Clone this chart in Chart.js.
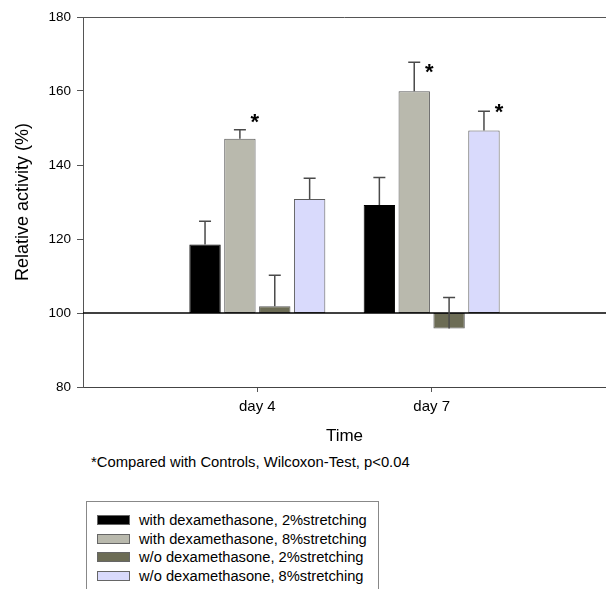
<!DOCTYPE html>
<html>
<head>
<meta charset="utf-8">
<script src="https://cdn.jsdelivr.net/npm/chart.js@4.4.0/dist/chart.umd.min.js"></script>
<style>
  html, body { margin: 0; padding: 0; background: #fff; overflow: hidden; width: 606px; height: 589px; }
  body { position: relative; font-family: "Liberation Sans", Arial, sans-serif; }
  #chart { position: absolute; left: 0; top: 0; }
  #footnote { position: absolute; left: 91px; top: 454px; font-size: 14.8px; line-height: 17px; color: #000; white-space: nowrap; }
  #legend { position: absolute; left: 86px; top: 501px; width: 293px; height: 110px; border: 1px solid #888; box-sizing: border-box; padding-top: 9px; }
  .row { height: 18.5px; display: flex; align-items: center; font-size: 14.7px; color: #000; white-space: nowrap; }
  .sw { width: 33px; height: 10px; margin-left: 10px; margin-right: 9px; box-sizing: border-box; border: 1px solid #666; }
</style>
</head>
<body>
<canvas id="chart" width="612" height="450"></canvas>
<div id="footnote">*Compared with Controls, Wilcoxon-Test, p&lt;0.04</div>
<div id="legend"></div>
<script>
// categories (empty ends keep the two days at 1/3 and 2/3 of the axis)
const dayLabels = ['', 'day 4', 'day 7', ''];

// series names and colours
const seriesNames = [
    'with dexamethasone, 2%stretching',
    'with dexamethasone, 8%stretching',
    'w/o dexamethasone, 2%stretching',
    'w/o dexamethasone, 8%stretching'
];
const seriesColors = ['#000000', '#b9b9ad', '#6c6c55', '#d9dafc'];

// values (relative activity, %) for day 4 and day 7
const withDexa2 = [118.5, 129.2];
const withDexa8 = [147.1, 159.9];
const woDexa2 = [101.8, 95.8];
const woDexa8 = [130.8, 149.3];

// upper error bars
const errWithDexa2 = [6.3, 7.4];
const errWithDexa8 = [2.4, 7.9];
const errWoDexa2 = [8.4, 8.4];
const errWoDexa8 = [5.6, 5.2];

// asterisks: which series, which day, at what value
const starSeries = [1, 1, 3];
const starDay = [0, 1, 1];
const starValue = [153.1, 166.6, 155.8];

const baseline = 100;
const yTicks = [80, 100, 120, 140, 160, 180];

const allValues = [withDexa2, withDexa8, woDexa2, woDexa8];
const allErrors = [errWithDexa2, errWithDexa8, errWoDexa2, errWoDexa8];

// floating bars from the 100% line
function toFloating(vals) {
    return [null, [baseline, vals[0]], [baseline, vals[1]], null];
}

const datasets = allValues.map((vals, i) => ({
    label: seriesNames[i],
    data: toFloating(vals),
    backgroundColor: seriesColors[i],
    borderColor: i === 0 ? '#000000' : '#5a5a5a',
    borderWidth: 1,
    borderSkipped: false
}));

// extra drawing: top frame line, 100% line, error bars, asterisks
const extrasPlugin = {
    id: 'extras',
    afterDatasetsDraw(chart) {
        const ctx = chart.ctx;
        const area = chart.chartArea;
        const y = chart.scales.y;

        ctx.save();
        ctx.strokeStyle = '#555';
        ctx.lineWidth = 1;
        ctx.beginPath();
        ctx.moveTo(area.left, area.top + 0.5);
        ctx.lineTo(area.right, area.top + 0.5);
        ctx.stroke();

        ctx.strokeStyle = '#000';
        ctx.lineWidth = 1.5;
        const y100 = y.getPixelForValue(baseline);
        ctx.beginPath();
        ctx.moveTo(area.left, y100);
        ctx.lineTo(area.right, y100);
        ctx.stroke();

        // error bars
        ctx.strokeStyle = '#4a4a4a';
        ctx.lineWidth = 1.5;
        allValues.forEach((vals, s) => {
            const meta = chart.getDatasetMeta(s);
            vals.forEach((v, d) => {
                const bar = meta.data[d + 1];
                const yv = y.getPixelForValue(v);
                const ye = y.getPixelForValue(v + allErrors[s][d]);
                ctx.beginPath();
                ctx.moveTo(bar.x, yv);
                ctx.lineTo(bar.x, ye);
                ctx.moveTo(bar.x - 6, ye);
                ctx.lineTo(bar.x + 6, ye);
                ctx.stroke();
            });
        });

        // significance marks
        ctx.fillStyle = '#000';
        ctx.font = 'bold 22px "Liberation Sans", Arial, sans-serif';
        ctx.textAlign = 'center';
        ctx.textBaseline = 'alphabetic';
        starSeries.forEach((s, k) => {
            const bar = chart.getDatasetMeta(s).data[starDay[k] + 1];
            const ys = y.getPixelForValue(starValue[k]);
            ctx.fillText('*', bar.x + 15, ys + 12);
        });
        ctx.restore();
    }
};

const ctx = document.getElementById('chart').getContext('2d');
new Chart(ctx, {
    type: 'bar',
    data: { labels: dayLabels, datasets: datasets },
    options: {
        responsive: false,
        animation: false,
        devicePixelRatio: 1,
        layout: { padding: { top: 17, right: 4, left: 0, bottom: 0 } },
        plugins: { legend: { display: false }, tooltip: { enabled: false } },
        scales: {
            x: {
                type: 'category',
                offset: false,
                grid: {
                    display: true,
                    offset: false,
                    drawOnChartArea: false,
                    tickLength: 5,
                    tickColor: c => (dayLabels[c.index] ? '#555' : 'rgba(0,0,0,0)')
                },
                border: { color: '#444', width: 1 },
                ticks: {
                    color: '#000',
                    padding: 6,
                    maxRotation: 0,
                    autoSkip: false,
                    font: { family: '"Liberation Sans", Arial, sans-serif', size: 15 }
                },
                title: {
                    display: true,
                    text: 'Time',
                    color: '#000',
                    padding: { top: 0, bottom: 3 },
                    font: { family: '"Liberation Sans", Arial, sans-serif', size: 17 }
                },
                afterFit: scale => { scale.height = 63; }
            },
            y: {
                min: 80,
                max: 180,
                afterBuildTicks: scale => { scale.ticks = yTicks.map(v => ({ value: v })); },
                grid: { drawOnChartArea: false, tickLength: 6, tickColor: '#555' },
                border: { color: '#555', width: 1 },
                ticks: {
                    color: '#000',
                    padding: 6,
                    font: { family: '"Liberation Sans", Arial, sans-serif', size: 13.5 }
                },
                title: {
                    display: true,
                    text: 'Relative activity (%)',
                    color: '#000',
                    padding: { top: 12, bottom: 0 },
                    font: { family: '"Liberation Sans", Arial, sans-serif', size: 18 }
                },
                afterFit: scale => { scale.width = 83; }
            }
        }
    },
    plugins: [extrasPlugin]
});

// legend box below the chart
const legendEl = document.getElementById('legend');
seriesNames.forEach((name, i) => {
    const row = document.createElement('div');
    row.className = 'row';
    const sw = document.createElement('span');
    sw.className = 'sw';
    sw.style.background = seriesColors[i];
    const txt = document.createElement('span');
    txt.textContent = name;
    row.appendChild(sw);
    row.appendChild(txt);
    legendEl.appendChild(row);
});
</script>
</body>
</html>
